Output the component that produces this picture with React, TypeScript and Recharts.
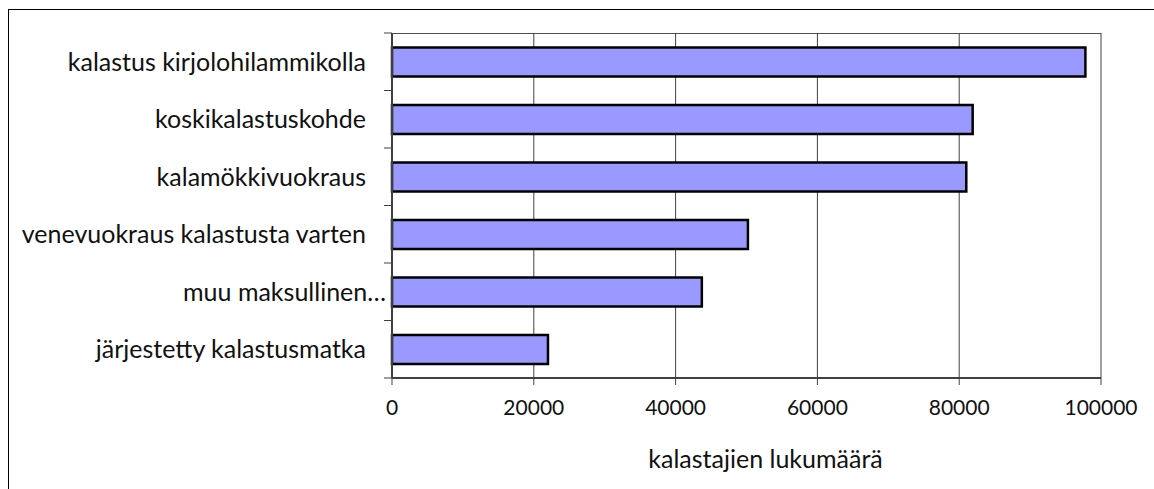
import { BarChart, Bar, XAxis, YAxis, CartesianGrid } from 'recharts'

const categories = [
  'kalastus kirjolohilammikolla',
  'koskikalastuskohde',
  'kalamökkivuokraus',
  'venevuokraus kalastusta varten',
  'muu maksullinen…',
  'järjestetty kalastusmatka',
]
const fishers = [97800, 81900, 81000, 50200, 43700, 22000]
const xTicks = [0, 20000, 40000, 60000, 80000, 100000]
const xTitle = 'kalastajien lukumäärä'

const data = categories.map((name, i) => ({ name, value: fishers[i] }))

const FONT = 'Lato, "Open Sans", sans-serif'
const BAND = (378 - 33) / categories.length

function YTick(props: any) {
  const { x, y, payload, index } = props
  const axisX = x + 26
  const truncated = payload.value.endsWith('…')
  return (
    <g>
      <line x1={axisX - 8} x2={axisX} y1={y - BAND / 2} y2={y - BAND / 2} stroke="#404040" />
      {index === categories.length - 1 && (
        <line x1={axisX - 8} x2={axisX} y1={y + BAND / 2} y2={y + BAND / 2} stroke="#404040" />
      )}
      <text
        x={truncated ? axisX - 6 : x}
        y={y}
        dy="0.35em"
        textAnchor="end"
        fontSize={25}
        fontFamily={FONT}
        fill="#111"
      >
        {payload.value}
      </text>
    </g>
  )
}

export default function App() {
  return (
    <div style={{ position: 'absolute', left: 0, top: 0, width: 1154, height: 489, background: '#fff' }}>
      <div
        style={{
          position: 'absolute',
          left: 8,
          top: 9,
          width: 1146,
          height: 480,
          borderTop: '1px solid #000',
          borderLeft: '1px solid #000',
        }}
      />
      <div
        style={{
          position: 'absolute',
          left: 392,
          top: 33,
          width: 709,
          height: 0,
          borderTop: '1px solid #505050',
        }}
      />
      <div style={{ position: 'absolute', left: 0, top: 0 }}>
        <BarChart
          width={1154}
          height={489}
          data={data}
          layout="vertical"
          margin={{ top: 33, right: 53, bottom: 0, left: 0 }}
          barCategoryGap="25%"
        >
          <CartesianGrid horizontal={false} vertical stroke="#404040" />
          <XAxis
            type="number"
            domain={[0, 100000]}
            ticks={xTicks}
            interval={0}
            height={111}
            tickSize={7}
            tickMargin={15}
            stroke="#404040"
            axisLine={{ stroke: '#404040', strokeWidth: 2 }}
            tick={{ fontSize: 21, fontFamily: FONT, fill: '#111' }}
            label={{
              value: xTitle,
              position: 'insideBottom',
              offset: 21,
              dx: 19,
              fontSize: 25,
              fontFamily: FONT,
              fill: '#111',
            }}
          />
          <YAxis
            type="category"
            dataKey="name"
            width={392}
            tickSize={0}
            tickMargin={26}
            interval={0}
            axisLine={{ stroke: '#404040', strokeWidth: 2 }}
            tick={<YTick />}
          />
          <Bar dataKey="value" fill="#9999ff" stroke="#000" strokeWidth={2.5} isAnimationActive={false} />
        </BarChart>
      </div>
    </div>
  )
}
